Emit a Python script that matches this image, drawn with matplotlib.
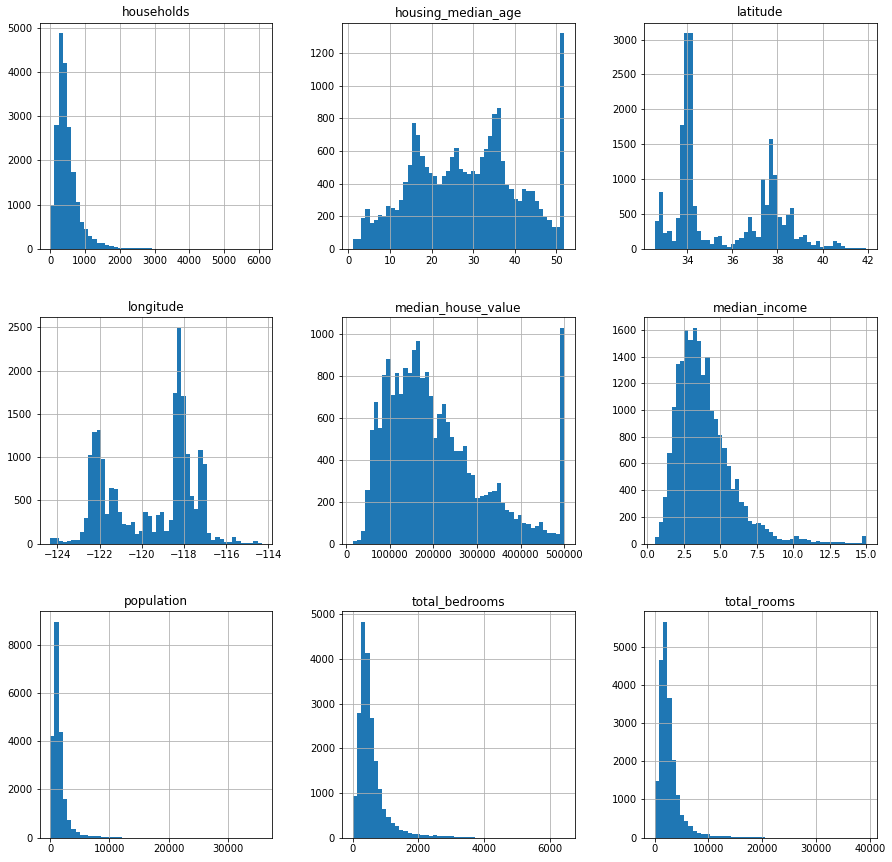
import numpy as np
import matplotlib
matplotlib.use("Agg")
import matplotlib.pyplot as plt

columns = ["households", "housing_median_age", "latitude",
           "longitude", "median_house_value", "median_income",
           "population", "total_bedrooms", "total_rooms"]

# (min, max) of each column -> 50 equal bins
households_range = (1, 6082)
housing_median_age_range = (1, 52)
latitude_range = (32.54, 41.95)
longitude_range = (-124.35, -114.31)
median_house_value_range = (14999, 500001)
median_income_range = (0.4999, 15.0001)
population_range = (3, 35682)
total_bedrooms_range = (1, 6445)
total_rooms_range = (2, 39320)

households_counts = [1000, 2800, 4870, 4200, 2750, 1735, 1055, 610, 445, 290,
                     225, 140, 130, 85, 60, 40, 25, 18, 16, 15,
                     14, 14, 13, 12, 2, 1, 1, 1, 0, 0,
                     0, 0, 0, 0, 0, 0, 0, 0, 0, 0,
                     0, 0, 0, 0, 0, 0, 0, 0, 0, 0]
housing_median_age_counts = [62, 62, 191, 244, 160, 175, 206, 205, 264, 254,
                             238, 302, 412, 512, 771, 698, 570, 502, 465, 446,
                             399, 448, 478, 566, 619, 488, 471, 461, 476, 458,
                             565, 615, 689, 824, 862, 537, 394, 369, 304, 296,
                             368, 353, 356, 294, 245, 198, 177, 134, 136, 1321]
latitude_counts = [400, 815, 230, 260, 120, 445, 1775, 3090, 3090, 620,
                   260, 130, 130, 75, 175, 190, 60, 35, 75, 130,
                   160, 245, 460, 260, 175, 1000, 635, 1575, 1060, 460,
                   345, 490, 590, 145, 175, 200, 105, 60, 115, 30,
                   45, 45, 115, 90, 45, 15, 15, 15, 15, 15]
longitude_counts = [62, 62, 25, 15, 25, 45, 35, 130, 300, 1025,
                    1290, 1310, 975, 340, 640, 630, 360, 220, 210, 245,
                    105, 150, 370, 315, 130, 325, 360, 150, 270, 1745,
                    2495, 1710, 1040, 545, 395, 1080, 920, 120, 35, 70,
                    50, 15, 15, 70, 25, 3, 3, 3, 25, 3]
median_house_value_counts = [10, 15, 60, 255, 540, 675, 550, 805, 880, 710,
                             815, 715, 840, 815, 925, 965, 790, 820, 705, 505,
                             620, 665, 580, 510, 440, 440, 465, 335, 325, 215,
                             225, 230, 245, 250, 290, 195, 160, 150, 115, 135,
                             100, 95, 75, 85, 105, 65, 50, 50, 45, 1030]
median_income_counts = [50, 160, 350, 680, 1020, 1345, 1365, 1595, 1525, 1615,
                        1515, 1265, 1400, 995, 935, 810, 715, 580, 405, 485,
                        310, 280, 165, 145, 150, 140, 105, 85, 55, 30,
                        25, 25, 30, 55, 35, 35, 25, 12, 18, 12,
                        10, 10, 10, 10, 10, 3, 3, 3, 3, 55]
population_counts = [4200, 8960, 4380, 1600, 720, 350, 220, 110, 90, 55,
                     50, 45, 40, 35, 2, 1, 1, 0, 0, 0,
                     0, 0, 0, 0, 0, 0, 0, 0, 0, 0,
                     0, 0, 0, 0, 0, 0, 0, 0, 0, 0,
                     0, 0, 0, 0, 0, 0, 0, 0, 0, 0]
total_bedrooms_counts = [940, 2790, 4830, 4140, 2680, 1720, 1075, 630, 450, 335,
                         250, 160, 140, 95, 75, 70, 55, 55, 30, 45,
                         25, 25, 25, 25, 5, 20, 2, 1, 1, 0,
                         0, 0, 0, 0, 0, 0, 0, 0, 0, 0,
                         0, 0, 0, 0, 0, 0, 0, 0, 0, 0]
total_rooms_counts = [1490, 4660, 5660, 3660, 2030, 1120, 600, 420, 290, 165,
                      130, 85, 80, 45, 35, 30, 30, 30, 25, 25,
                      25, 22, 20, 20, 1, 1, 0, 0, 0, 0,
                      0, 0, 0, 0, 0, 0, 0, 0, 0, 0,
                      0, 0, 0, 0, 0, 0, 0, 0, 0, 0]

ranges = [households_range, housing_median_age_range, latitude_range,
          longitude_range, median_house_value_range, median_income_range,
          population_range, total_bedrooms_range, total_rooms_range]
counts = [households_counts, housing_median_age_counts, latitude_counts,
          longitude_counts, median_house_value_counts, median_income_counts,
          population_counts, total_bedrooms_counts, total_rooms_counts]

W, H = 892, 862
fig = plt.figure(figsize=(W / 72, H / 72), dpi=72)

col_left = [39.5, 342, 644]
row_top = [22.5, 317, 611]
ax_w, ax_h = 233, 226.5

for i, (name, rng, cnt) in enumerate(zip(columns, ranges, counts)):
    r, c = divmod(i, 3)
    left = col_left[c] / W
    bottom = 1 - (row_top[r] + ax_h) / H
    ax = fig.add_axes([left, bottom, ax_w / W, ax_h / H])
    edges = np.linspace(rng[0], rng[1], 51)
    centers = (edges[:-1] + edges[1:]) / 2
    ax.hist(centers, bins=edges, weights=cnt, color="#1f77b4")
    ax.set_xlim(rng[0] - 0.05 * (rng[1] - rng[0]),
                rng[1] + 0.05 * (rng[1] - rng[0]))
    ax.set_axisbelow("line")
    ax.grid(True, color="#b0b0b0", linewidth=0.8)
    ax.set_title(name, fontsize=12)
    ax.tick_params(labelsize=10)

fig.savefig("out.png", dpi=72)
